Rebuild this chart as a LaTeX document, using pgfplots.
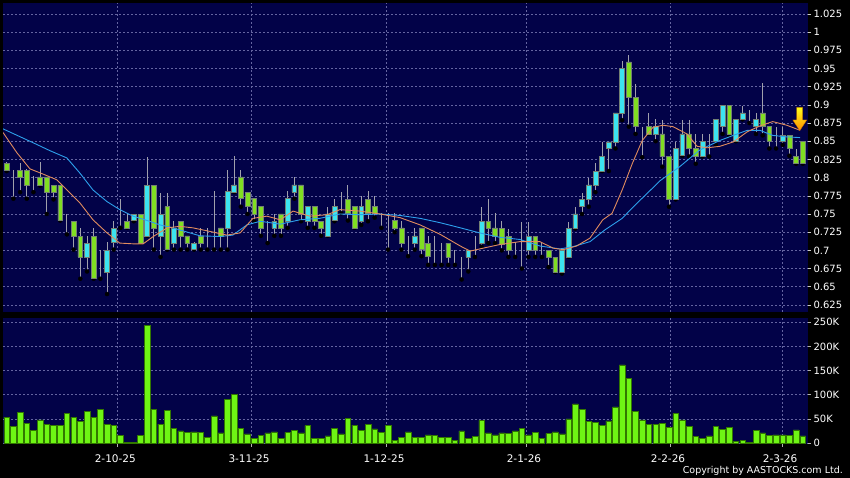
\documentclass[border=0pt]{standalone}
\usepackage{pgfplots}
\pgfplotsset{compat=1.18}
\usepackage{pgfplotstable}
\usepackage{fontspec}
\setmainfont{DejaVu Sans}
\definecolor{navy}{RGB}{2,2,72}
\definecolor{gridc}{RGB}{100,100,160}
\definecolor{upc}{RGB}{60,228,240}
\definecolor{dnc}{RGB}{128,222,34}
\definecolor{wick}{RGB}{160,160,172}
\definecolor{edge}{RGB}{115,128,115}
\definecolor{volc}{RGB}{110,245,20}
\definecolor{voledge}{RGB}{50,120,0}
\definecolor{maorange}{RGB}{225,140,95}
\definecolor{mablue}{RGB}{45,160,235}

\pgfplotstableread{
i o h l c
0 0.820 0.822 0.809 0.810
1 0.801 0.811 0.771 0.801
2 0.810 0.820 0.780 0.801
3 0.810 0.812 0.771 0.789
4 0.801 0.802 0.780 0.801
5 0.801 0.821 0.789 0.789
6 0.801 0.801 0.750 0.780
7 0.789 0.789 0.770 0.780
8 0.789 0.789 0.741 0.741
9 0.741 0.750 0.722 0.741
10 0.740 0.740 0.701 0.720
11 0.719 0.731 0.661 0.691
12 0.691 0.720 0.671 0.710
13 0.719 0.731 0.661 0.661
14 0.661 0.700 0.661 0.661
15 0.670 0.712 0.640 0.700
16 0.711 0.740 0.701 0.730
17 0.741 0.771 0.731 0.741
18 0.740 0.750 0.731 0.731
19 0.741 0.750 0.740 0.749
20 0.749 0.750 0.710 0.710
21 0.720 0.829 0.720 0.789
22 0.789 0.789 0.701 0.731
23 0.720 0.779 0.691 0.749
24 0.760 0.779 0.701 0.701
25 0.710 0.740 0.701 0.731
26 0.740 0.741 0.701 0.720
27 0.720 0.720 0.701 0.710
28 0.701 0.712 0.701 0.710
29 0.719 0.731 0.701 0.710
30 0.715 0.731 0.701 0.715
31 0.720 0.781 0.701 0.720
32 0.731 0.731 0.701 0.720
33 0.731 0.811 0.701 0.781
34 0.780 0.830 0.780 0.790
35 0.801 0.811 0.760 0.771
36 0.780 0.780 0.750 0.760
37 0.771 0.771 0.740 0.750
38 0.760 0.760 0.720 0.731
39 0.720 0.740 0.710 0.720
40 0.731 0.750 0.720 0.740
41 0.750 0.750 0.720 0.731
42 0.740 0.781 0.731 0.771
43 0.780 0.801 0.771 0.790
44 0.790 0.790 0.740 0.750
45 0.740 0.760 0.731 0.760
46 0.760 0.760 0.731 0.740
47 0.740 0.740 0.720 0.731
48 0.720 0.760 0.720 0.750
49 0.741 0.771 0.740 0.760
50 0.768 0.780 0.751 0.768
51 0.770 0.790 0.741 0.751
52 0.760 0.760 0.731 0.731
53 0.740 0.775 0.735 0.760
54 0.770 0.781 0.740 0.751
55 0.760 0.775 0.745 0.751
56 0.741 0.751 0.731 0.741
57 0.750 0.751 0.701 0.750
58 0.741 0.751 0.725 0.731
59 0.731 0.740 0.701 0.710
60 0.710 0.720 0.692 0.710
61 0.710 0.731 0.701 0.720
62 0.731 0.731 0.692 0.701
63 0.710 0.720 0.680 0.692
64 0.701 0.720 0.680 0.701
65 0.701 0.710 0.680 0.701
66 0.710 0.710 0.680 0.691
67 0.691 0.701 0.680 0.691
68 0.691 0.691 0.660 0.691
69 0.691 0.700 0.671 0.700
70 0.710 0.720 0.691 0.710
71 0.710 0.760 0.705 0.740
72 0.740 0.770 0.710 0.731
73 0.731 0.751 0.710 0.720
74 0.730 0.741 0.700 0.709
75 0.719 0.730 0.691 0.700
76 0.705 0.712 0.691 0.705
77 0.715 0.739 0.675 0.715
78 0.700 0.739 0.691 0.719
79 0.719 0.719 0.691 0.700
80 0.705 0.712 0.691 0.705
81 0.700 0.700 0.677 0.691
82 0.690 0.690 0.670 0.670
83 0.670 0.700 0.668 0.700
84 0.691 0.739 0.691 0.730
85 0.730 0.760 0.730 0.750
86 0.760 0.779 0.750 0.770
87 0.770 0.799 0.760 0.790
88 0.790 0.820 0.780 0.809
89 0.809 0.849 0.809 0.829
90 0.840 0.849 0.809 0.849
91 0.849 0.889 0.840 0.889
92 0.889 0.960 0.879 0.950
93 0.959 0.969 0.870 0.911
94 0.910 0.929 0.860 0.871
95 0.859 0.870 0.828 0.859
96 0.870 0.889 0.860 0.860
97 0.860 0.880 0.850 0.870
98 0.860 0.879 0.815 0.829
99 0.829 0.829 0.760 0.770
100 0.770 0.849 0.770 0.840
101 0.830 0.879 0.830 0.860
102 0.860 0.879 0.829 0.840
103 0.840 0.860 0.819 0.829
104 0.829 0.860 0.829 0.850
105 0.850 0.860 0.829 0.850
106 0.850 0.880 0.845 0.880
107 0.870 0.900 0.860 0.899
108 0.899 0.899 0.858 0.860
109 0.850 0.880 0.850 0.880
110 0.880 0.899 0.880 0.889
111 0.880 0.893 0.875 0.880
112 0.871 0.889 0.860 0.880
113 0.889 0.930 0.858 0.870
114 0.870 0.870 0.840 0.850
115 0.860 0.870 0.840 0.860
116 0.850 0.870 0.845 0.858
117 0.858 0.858 0.830 0.840
118 0.829 0.840 0.819 0.819
119 0.850 0.850 0.819 0.819
}\candles

\pgfplotstableread{
i v
0 53000
1 34000
2 64000
3 41000
4 26000
5 48000
6 38000
7 36000
8 36000
9 61000
10 53000
11 45000
12 66000
13 53000
14 70000
15 39000
16 37000
17 16000
18 2000
19 2000
20 16000
21 244000
22 70000
23 39000
24 68000
25 30000
26 25000
27 22000
28 23000
29 22000
30 11000
31 56000
32 21000
33 91000
34 100000
35 30000
36 19000
37 10000
38 16000
39 21000
40 23000
41 10000
42 22000
43 26000
44 21000
45 36000
46 10000
47 10000
48 15000
49 30000
50 19000
51 51000
52 37000
53 26000
54 38000
55 29000
56 22000
57 36000
58 6000
59 12000
60 23000
61 12000
62 12000
63 17000
64 16000
65 12000
66 11000
67 6000
68 25000
69 9000
70 14000
71 47000
72 21000
73 17000
74 21000
75 20000
76 25000
77 31000
78 17000
79 22000
80 9000
81 20000
82 23000
83 19000
84 50000
85 81000
86 70000
87 45000
88 43000
89 36000
90 46000
91 75000
92 162000
93 134000
94 65000
95 48000
96 39000
97 39000
98 41000
99 33000
100 61000
101 48000
102 34000
103 14000
104 9000
105 15000
106 34000
107 28000
108 32000
109 4000
110 5000
111 2000
112 26000
113 21000
114 16000
115 17000
116 17000
117 16000
118 27000
119 15000
}\volumes

\pgfplotsset{
  priceax/.style={
    at={(3pt,166pt)}, anchor=south west, scale only axis,
    width=805pt, height=309pt,
    xmin=-0.553, xmax=119.78, ymin=0.6153, ymax=1.04,
  },
}

\begin{document}
\begin{tikzpicture}
\fill[black] (0,0) rectangle (850pt,478pt);
\useasboundingbox (0,0) rectangle (850pt,478pt);

% price panel background, grid, wicks
\begin{axis}[priceax,
  axis background/.style={fill=navy},
  axis line style={draw=none},
  xtick={16.53,36.52,56.7,77.62,99.15,115.9}, xticklabels={},
  xtick style={draw=none},
  ytick={0.625,0.65,0.675,0.7,0.725,0.75,0.775,0.8,0.825,0.85,0.875,0.9,0.925,0.95,0.975,1,1.025},
  yticklabels={0.625,0.65,0.675,0.7,0.725,0.75,0.775,0.8,0.825,0.85,0.875,0.9,0.925,0.95,0.975,1,1.025},
  ytick pos=right, yticklabel pos=right,
  tick align=outside, major tick length=3pt,
  ytick style={draw=white!80!black, line width=0.6pt},
  yticklabel style={text=white, font=\fontsize{10}{12}\selectfont, anchor=west, xshift=-1pt},
  xmajorgrids, ymajorgrids,
  major grid style={gridc, dash pattern=on 2pt off 2pt, line width=0.6pt},
]
\addplot[only marks, mark=none,
  error bars/.cd, y dir=plus, y explicit, error mark=none,
  error bar style={wick, line width=0.9pt, solid}]
  table[x=i, y=l, y error plus expr=\thisrow{h}-\thisrow{l}] {\candles};
\end{axis}

% candle bodies
\begin{axis}[priceax, hide axis, ybar stacked, bar width=4.8pt]
\addplot[fill=none, draw=none] table[x=i, y expr={min(\thisrow{o},\thisrow{c})}] {\candles};
\addplot[fill=upc, draw=edge, line width=0.6pt] table[x=i, y expr={max(\thisrow{c}-\thisrow{o},0)}] {\candles};
\addplot[fill=dnc, draw=edge, line width=0.6pt] table[x=i, y expr={max(\thisrow{o}-\thisrow{c},0)}] {\candles};
\end{axis}

% moving averages and marker
\begin{axis}[priceax, hide axis]
\addplot[mablue, line width=0.9pt] coordinates {
(-0.55,0.867) (3.93,0.848) (6.47,0.837) (9.0,0.827) (10.96,0.806) (12.9,0.783)
(15.0,0.767) (16.9,0.756) (18.9,0.747) (21.0,0.741) (22.9,0.735) (24.4,0.732)
(28.9,0.720) (31.9,0.719) (33.8,0.721) (35.9,0.735) (37.9,0.740) (40.9,0.736)
(43.8,0.742) (46.8,0.744) (49.8,0.750) (52.8,0.749) (55.8,0.750) (58.8,0.748)
(61.8,0.744) (64.8,0.738) (67.8,0.731) (70.7,0.724) (73.7,0.718) (76.7,0.715)
(79.7,0.706) (82.7,0.702) (84.6,0.705) (87.2,0.712) (89.4,0.728) (92.0,0.744)
(93.9,0.762) (95.7,0.778) (97.7,0.796) (100.6,0.815) (103.6,0.838) (106.6,0.851)
(108.6,0.858) (110.7,0.865) (112.6,0.865) (114.5,0.858) (116.6,0.856) (118.6,0.855)
};
\addplot[maorange, line width=0.9pt] coordinates {
(-0.55,0.862) (1.54,0.834) (3.48,0.812) (5.4,0.805) (7.5,0.797) (9.0,0.783)
(10.96,0.765) (12.9,0.742) (15.0,0.724) (16.9,0.710) (18.9,0.709) (20.4,0.709)
(21.9,0.719) (24.0,0.731) (25.9,0.733) (27.8,0.731) (30.4,0.726) (32.9,0.721)
(34.9,0.724) (36.8,0.744) (38.9,0.747) (40.9,0.742) (42.8,0.754) (45.3,0.747)
(47.9,0.749) (49.8,0.756) (52.8,0.754) (55.8,0.750) (58.8,0.745) (61.8,0.735)
(64.8,0.722) (67.8,0.706) (69.3,0.699) (71.2,0.703) (73.7,0.708) (76.7,0.712)
(79.7,0.712) (81.7,0.703) (83.2,0.701) (85.2,0.706) (87.2,0.717) (89.1,0.742)
(90.5,0.751) (92.0,0.783) (93.5,0.819) (95.0,0.851) (96.6,0.869) (98.1,0.872)
(99.6,0.870) (101.7,0.860) (103.2,0.843) (104.7,0.841) (106.6,0.843) (108.6,0.849)
(110.7,0.863) (112.6,0.871) (114.5,0.877) (116.6,0.872) (118.6,0.865)
};
\fill[top color=yellow!90!white, bottom color=orange!90!yellow, draw=orange!80!black, line width=0.3pt]
  (axis cs:118.09,0.8966) -- (axis cs:118.98,0.8966) -- (axis cs:118.98,0.8792)
  -- (axis cs:119.6,0.8792) -- (axis cs:118.55,0.8645) -- (axis cs:117.5,0.8792)
  -- (axis cs:118.09,0.8792) -- cycle;
\end{axis}

% volume panel
\begin{axis}[
  at={(3pt,34pt)}, anchor=south west, scale only axis,
  width=805pt, height=126pt,
  xmin=-0.553, xmax=119.78, ymin=-2071, ymax=258900,
  axis background/.style={fill=navy},
  axis line style={draw=none},
  ybar, bar width=5.6pt,
  xtick={16.53,36.52,56.7,77.62,99.15,115.9},
  xticklabels={2-10-25,3-11-25,1-12-25,2-1-26,2-2-26,2-3-26},
  xtick pos=bottom, ytick pos=right, yticklabel pos=right,
  tick align=outside, major tick length=3pt,
  tick style={draw=white!70!black, line width=0.6pt},
  xticklabel style={text=white, font=\fontsize{10.5}{12}\selectfont, yshift=-4pt, xshift=-2pt},
  ytick={0,50000,100000,150000,200000,250000},
  yticklabels={0,50K,100K,150K,200K,250K},
  yticklabel style={text=white, font=\fontsize{10}{12}\selectfont, anchor=west, xshift=-1pt},
  scaled y ticks=false,
  xmajorgrids, ymajorgrids,
  major grid style={gridc, dash pattern=on 2pt off 2pt, line width=0.6pt},
]
\addplot[fill=volc, draw=voledge, line width=0.5pt] table[x=i, y=v] {\volumes};
\end{axis}

\node[anchor=south east, text=white, font=\fontsize{9.5}{11}\selectfont, inner sep=0pt] at (843pt,2pt) {Copyright by AASTOCKS.com Ltd.};
\end{tikzpicture}
\end{document}
